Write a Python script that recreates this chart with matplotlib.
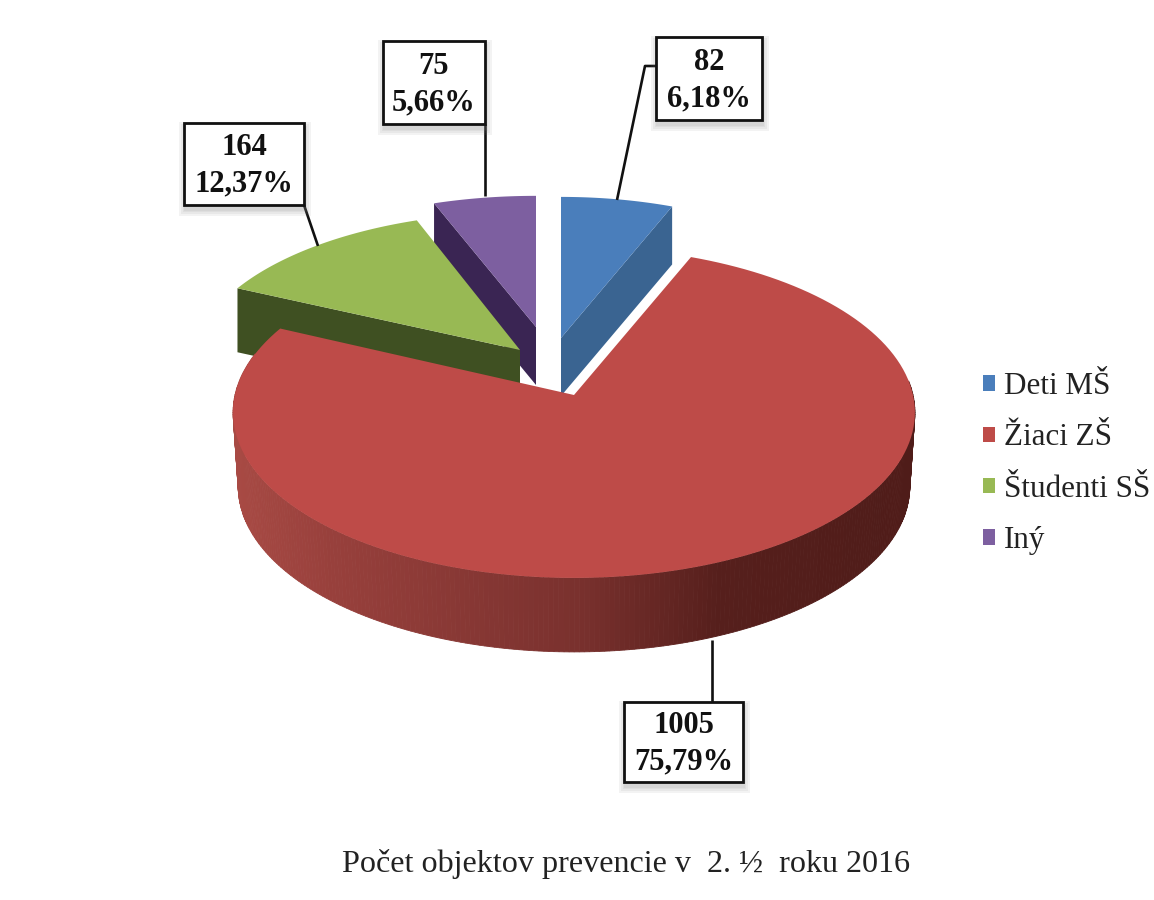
import numpy as np
import matplotlib
matplotlib.use('Agg')
import matplotlib.pyplot as plt
from matplotlib.colors import to_rgb
from matplotlib.patches import Patch, Polygon, Rectangle

# data
categories = ['Deti MŠ', 'Žiaci ZŠ', 'Študenti SŠ', 'Iný']
counts = [82, 1005, 164, 75]
chart_title = 'Počet objektov prevencie v  2. ½  roku 2016'

# colours
top_colors = ['#4a7ebb', '#be4b48', '#98b954', '#7d5fa0']
side_colors = ['#3a6491', '#541f1c', '#3f5022', '#3a2553']

# slice layout, in pixels of the picture
apex_x = [561, 574, 520, 536]
apex_y = [338, 395, 350, 327]
radius_x = [322, 339, 326, 322]
radius_y = [156, 163.6, 152, 145]
depths = [58, 74, 64, 58]
PERSPECTIVE = 0.1056

# label boxes: left, top, right, bottom
boxes = [(656, 37, 762, 120), (624, 702, 743, 782), (184, 123, 304, 205), (383, 41, 485, 124)]
leaders = [
    [(617, 200), (645, 66), (656, 66)],
    [(712, 640), (712, 702)],
    [(318, 246), (304, 205)],
    [(485, 196), (485, 124)],
]

plt.rcParams['font.family'] = ['Liberation Serif', 'DejaVu Serif']

fig = plt.figure(figsize=(11.54, 9), dpi=100)
ax = fig.add_axes([0, 0, 1, 1])
ax.set_xlim(0, 1154)
ax.set_ylim(900, 0)
ax.axis('off')

total = sum(counts)
edges = np.concatenate([[0], np.cumsum(counts)]) / total * 2 * np.pi


def project(i, theta, drop=0.0, shrink=1.0):
    # pie plane seen in perspective, theta clockwise from 12 o'clock
    w = 1 + PERSPECTIVE * np.cos(theta)
    x = apex_x[i] + shrink * radius_x[i] * np.sin(theta) / w
    y = apex_y[i] - radius_y[i] * np.cos(theta) / w + drop
    return np.column_stack([x, y])


def draw_top(i, z):
    t = np.linspace(edges[i], edges[i + 1], 150)
    pts = np.vstack([[(apex_x[i], apex_y[i])], project(i, t)])
    ax.add_patch(Polygon(pts, closed=True, facecolor=top_colors[i], edgecolor='none', zorder=z))


def draw_radial_face(i, theta, z):
    # cut face of a slice, from the apex out to the rim
    rim = project(i, np.array([theta]))[0]
    d = depths[i]
    pts = [(apex_x[i], apex_y[i]), rim, (rim[0], rim[1] + d), (apex_x[i], apex_y[i] + d)]
    ax.add_patch(Polygon(pts, closed=True, facecolor=side_colors[i], edgecolor='none', zorder=z))


# purple, green and blue sit behind the red slice
draw_radial_face(3, edges[3], 1)
draw_top(3, 2)
draw_radial_face(2, edges[2], 3)
draw_top(2, 4)
draw_radial_face(0, edges[1], 3)
draw_top(0, 4)

# red outer wall, built from strips so it can fade from left to right
wall_t = np.linspace(np.radians(85), np.radians(285), 260)
wall_top = project(1, wall_t)
wall_bottom = project(1, wall_t, drop=depths[1], shrink=0.985)
wall_x = [233, 330, 575, 720, 916]
wall_rgb = np.array([to_rgb(c) for c in ['#a84a44', '#98403c', '#7a312e', '#561f1c', '#4f1c19']])
for k in range(len(wall_t) - 1):
    mid_x = (wall_top[k, 0] + wall_top[k + 1, 0]) / 2
    col = [np.interp(mid_x, wall_x, wall_rgb[:, c]) for c in range(3)]
    pts = [wall_top[k], wall_top[k + 1], wall_bottom[k + 1], wall_bottom[k]]
    ax.add_patch(Polygon(pts, closed=True, facecolor=col, edgecolor=col, linewidth=0.6, zorder=5))
draw_top(1, 6)

# leader lines
for line in leaders:
    xs, ys = zip(*line)
    ax.plot(xs, ys, color='#111111', lw=1.9, zorder=7, solid_capstyle='butt')

# label boxes with soft shadow
for i, (left, top, right, bottom) in enumerate(boxes):
    w, h = right - left, bottom - top
    for grow in [6, 4, 2, 1]:
        ax.add_patch(Rectangle((left + 1 - grow, top + 5 - grow), w + 2 * grow, h + 2 * grow,
                               facecolor='#808080', edgecolor='none', alpha=0.09, zorder=8))
    ax.add_patch(Rectangle((left, top), w, h, facecolor='white', edgecolor='#111111', lw=2.0, zorder=9))
    pct = f'{counts[i] / total * 100:.2f}%'.replace('.', ',')
    ax.text((left + right) / 2, (top + bottom) / 2 + 2, f'{counts[i]}\n{pct}', ha='center', va='center',
            fontsize=22, fontweight='bold', color='#111111', linespacing=1.32, zorder=10)

# legend
handles = [Patch(facecolor=c, edgecolor='none') for c in top_colors]
ax.legend(handles, categories, loc='upper left', bbox_to_anchor=(983 / 1154, 1 - 372 / 900),
          frameon=False, fontsize=22.4, handlelength=0.39, handleheight=0.39, handletextpad=0.28,
          labelspacing=0.72, borderpad=0, borderaxespad=0, labelcolor='#222222')

ax.text(626.5, 864, chart_title, ha='center', va='center', fontsize=23.1, color='#222222')

fig.savefig('out.png', dpi=100, facecolor='white')
